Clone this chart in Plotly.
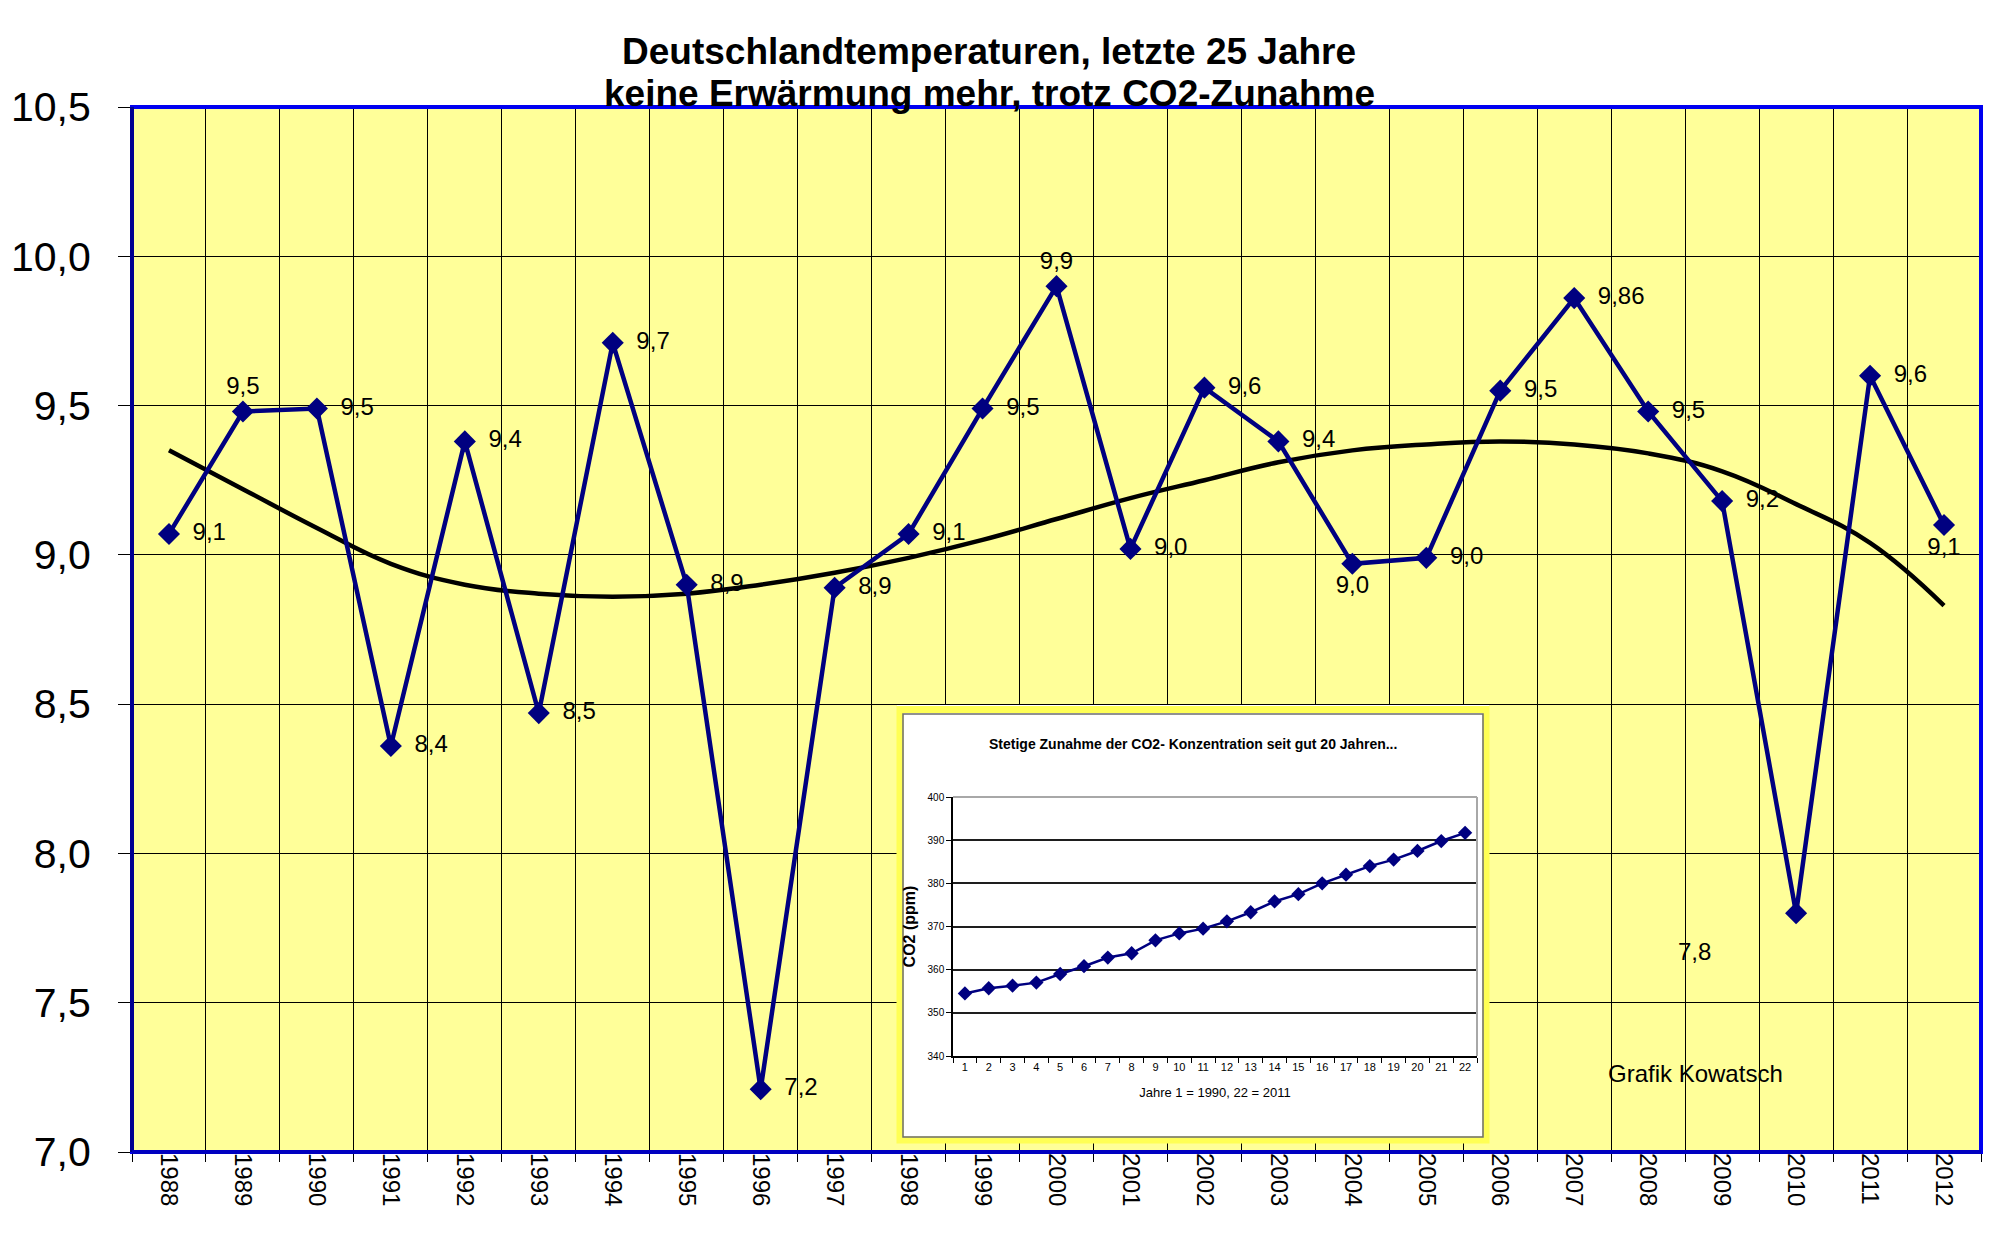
import plotly.graph_objects as go

# ---------------- data ----------------
years = ["1988", "1989", "1990", "1991", "1992", "1993", "1994", "1995", "1996",
         "1997", "1998", "1999", "2000", "2001", "2002", "2003", "2004", "2005",
         "2006", "2007", "2008", "2009", "2010", "2011", "2012"]
temps = [9.07, 9.48, 9.49, 8.36, 9.38, 8.47, 9.71, 8.90, 7.21, 8.89, 9.07, 9.49,
         9.90, 9.02, 9.56, 9.38, 8.97, 8.99, 9.55, 9.86, 9.48, 9.18, 7.80, 9.60, 9.10]
temp_labels = ["9,1", "9,5", "9,5", "8,4", "9,4", "8,5", "9,7", "8,9", "7,2", "8,9",
               "9,1", "9,5", "9,9", "9,0", "9,6", "9,4", "9,0", "9,0", "9,5", "9,86",
               "9,5", "9,2", "7,8", "9,6", "9,1"]
label_pos = ["middle right", "top center", "middle right", "middle right", "middle right",
             "middle right", "middle right", "middle right", "middle right", "middle right",
             "middle right", "middle right", "top center", "middle right", "middle right",
             "middle right", "bottom center", "middle right", "middle right", "middle right",
             "middle right", "middle right", "none", "middle right", "bottom center"]
trend = [9.35, 9.22, 9.09, 8.97, 8.90, 8.87, 8.86, 8.87, 8.90, 8.94, 8.99, 9.05,
         9.12, 9.19, 9.25, 9.31, 9.35, 9.37, 9.38, 9.37, 9.34, 9.28, 9.17, 9.04, 8.83]

co2_x = ["1", "2", "3", "4", "5", "6", "7", "8", "9", "10", "11", "12", "13", "14",
         "15", "16", "17", "18", "19", "20", "21", "22"]
co2 = [354.5, 355.7, 356.3, 357.0, 359.0, 360.8, 362.8, 363.8, 366.8, 368.4, 369.5,
       371.2, 373.3, 375.8, 377.5, 380.0, 382.0, 384.0, 385.5, 387.5, 389.8, 391.7]

# ---------------- layout helpers (page pixel coordinates) ----------------
PAGE_W, PAGE_H = 1991, 1233
OFF = 8                       # default body margin of the html page
W, H = PAGE_W - OFF, PAGE_H - OFF
PLOT_L, PLOT_T, PLOT_R, PLOT_B = 132, 107, 1981, 1152
L, T = PLOT_L - OFF, PLOT_T - OFF
R, B = PAGE_W - PLOT_R, PAGE_H - PLOT_B
PW, PH = PLOT_R - PLOT_L, PLOT_B - PLOT_T


def px(x):
    return (x - PLOT_L) / PW


def py(y):
    return (PLOT_B - y) / PH


FONT = "Liberation Sans, Arial, sans-serif"
NAVY = "#000080"

texts = []
positions = []
for lab, pos in zip(temp_labels, label_pos):
    if pos == "none":
        texts.append("")
        positions.append("middle right")
    elif pos == "middle right":
        texts.append("\u2002" + lab)
        positions.append(pos)
    else:
        texts.append(lab)
        positions.append(pos)

fig = go.Figure()

fig.add_trace(go.Scatter(
    x=years, y=trend, mode="lines",
    line=dict(color="black", width=4.5, shape="spline", smoothing=1.2),
    xaxis="x", yaxis="y", hoverinfo="skip"))

fig.add_trace(go.Scatter(
    x=years, y=temps, mode="lines+markers+text", text=texts, textposition=positions,
    textfont=dict(size=24, color="black", family=FONT),
    line=dict(color=NAVY, width=4.5),
    marker=dict(symbol="diamond", size=17, color=NAVY),
    cliponaxis=False, xaxis="x", yaxis="y", hoverinfo="x+y"))

# white panel behind the inset (covers main grid)
fig.add_trace(go.Scatter(x=[None], y=[None], xaxis="x2", yaxis="y2",
                         mode="markers", hoverinfo="skip"))

# inset CO2 chart
fig.add_trace(go.Scatter(
    x=co2_x, y=co2, mode="lines+markers",
    line=dict(color=NAVY, width=2.5),
    marker=dict(symbol="diamond", size=11, color=NAVY),
    xaxis="x3", yaxis="y3"))

panel_outer = (897, 705, 1489, 1143)
panel_inner = (903, 714, 1483, 1137)
inset_plot = (953, 797, 1477, 1056)

shapes = [
    dict(type="rect", xref="x domain", yref="y domain", x0=0, x1=1, y0=0, y1=1,
         fillcolor="#FFFF99", line=dict(width=0), layer="below"),
    dict(type="rect", xref="x domain", yref="y domain", x0=0, x1=1, y0=0, y1=1,
         fillcolor="rgba(0,0,0,0)", line=dict(color="#0000F0", width=4), layer="above"),
    dict(type="line", xref="x domain", yref="y domain", x0=0, x1=0, y0=0, y1=1,
         line=dict(color="#000090", width=4), layer="above"),
    dict(type="line", xref="x domain", yref="y domain", x0=0, x1=1, y0=0, y1=0,
         line=dict(color="#0000C0", width=4), layer="above"),
    # yellow frame around the inset
    dict(type="rect", xref="paper", yref="paper",
         x0=px((panel_outer[0] + panel_inner[0]) / 2), x1=px((panel_outer[2] + panel_inner[2]) / 2),
         y0=py((panel_outer[3] + panel_inner[3]) / 2), y1=py((panel_outer[1] + panel_inner[1]) / 2),
         fillcolor="rgba(0,0,0,0)", line=dict(color="#FFFF55", width=7), layer="above"),
    dict(type="rect", xref="paper", yref="paper",
         x0=px(panel_inner[0]), x1=px(panel_inner[2]),
         y0=py(panel_inner[3]), y1=py(panel_inner[1]),
         fillcolor="rgba(0,0,0,0)", line=dict(color="#6E6E6E", width=1.5), layer="above"),
    # inset plot border (top/right)
    dict(type="line", xref="x3 domain", yref="y3 domain", x0=0, x1=1, y0=1, y1=1,
         line=dict(color="#A8A8A8", width=2), layer="above"),
    dict(type="line", xref="x3 domain", yref="y3 domain", x0=1, x1=1, y0=0, y1=1,
         line=dict(color="#A8A8A8", width=2), layer="above"),
]

annotations = [
    dict(text="<b>Deutschlandtemperaturen, letzte 25 Jahre</b>", xref="paper", yref="paper",
         x=px(989), y=py(51), xanchor="center", yanchor="middle", showarrow=False,
         font=dict(size=37, color="black", family=FONT)),
    dict(text="<b>keine Erwärmung mehr, trotz CO2-Zunahme</b>", xref="paper", yref="paper",
         x=px(989), y=py(93), xanchor="center", yanchor="middle", showarrow=False,
         font=dict(size=37, color="black", family=FONT)),
    dict(text=temp_labels[years.index("2010")], xref="x", yref="y",
         x=years.index("2010"), y=7.67, xshift=-102,
         showarrow=False, font=dict(size=24, color="black", family=FONT)),
    dict(text="Grafik Kowatsch", xref="paper", yref="paper", x=px(1695), y=py(1073),
         xanchor="center", yanchor="middle", showarrow=False,
         font=dict(size=24, color="black", family=FONT)),
    dict(text="<b>Stetige Zunahme der CO2- Konzentration seit gut 20 Jahren...</b>",
         xref="paper", yref="paper", x=px(1193), y=py(744), xanchor="center",
         yanchor="middle", showarrow=False, font=dict(size=14, color="black", family=FONT)),
]

fig.update_layout(
    width=W, height=H, margin=dict(l=L, r=R, t=T, b=B, pad=0, autoexpand=False),
    paper_bgcolor="white", plot_bgcolor="white", separators=",.",
    showlegend=False, shapes=shapes, annotations=annotations,
    font=dict(family=FONT, color="black"),
    xaxis=dict(type="category", domain=[0, 1], anchor="y", range=[-0.5, 24.5],
               tickson="boundaries", showgrid=True, gridcolor="black", gridwidth=1,
               ticks="outside", ticklen=9, tickcolor="black", tickwidth=1,
               tickangle=90, tickfont=dict(size=24, family=FONT, color="black"),
               showline=False, zeroline=False, fixedrange=True, automargin=False),
    yaxis=dict(domain=[0, 1], anchor="x", range=[7, 10.5], tick0=7, dtick=0.5,
               tickformat=".1f", showgrid=True, gridcolor="black", gridwidth=1,
               ticks="outside", ticklen=13, tickcolor="black", tickwidth=1,
               tickfont=dict(size=41, family=FONT, color="black"), ticklabelstandoff=19,
               showline=False, zeroline=False, fixedrange=True, automargin=False),
    xaxis2=dict(domain=[px(panel_outer[0]), px(panel_outer[2])], anchor="y2",
                range=[0, 1], visible=False, fixedrange=True, automargin=False),
    yaxis2=dict(domain=[py(panel_outer[3]), py(panel_outer[1])], anchor="x2",
                range=[0, 1], visible=False, fixedrange=True, automargin=False),
    xaxis3=dict(type="category", domain=[px(inset_plot[0]), px(inset_plot[2])], anchor="y3",
                range=[-0.5, 21.5], tickson="boundaries", showgrid=False,
                ticks="outside", ticklen=5, tickcolor="black", tickwidth=1,
                showline=True, linecolor="black", linewidth=1.5, tickangle=0,
                tickfont=dict(size=11, family=FONT, color="black"),
                title=dict(text="Jahre 1 = 1990, 22 = 2011", standoff=16,
                           font=dict(size=13, family=FONT, color="black")),
                zeroline=False, fixedrange=True, automargin=False),
    yaxis3=dict(domain=[py(inset_plot[3]), py(inset_plot[1])], anchor="x3",
                range=[340, 400], tick0=340, dtick=10, showgrid=True,
                gridcolor="#1E1E1E", gridwidth=2,
                ticks="outside", ticklen=5, tickcolor="black", tickwidth=1,
                showline=True, linecolor="black", linewidth=1.5,
                tickfont=dict(size=10, family=FONT, color="black"),
                title=dict(text="<b>CO2 (ppm)</b>", standoff=8,
                           font=dict(size=16, family=FONT, color="black")),
                zeroline=False, fixedrange=True, automargin=False),
)

fig.write_html("out.html")
